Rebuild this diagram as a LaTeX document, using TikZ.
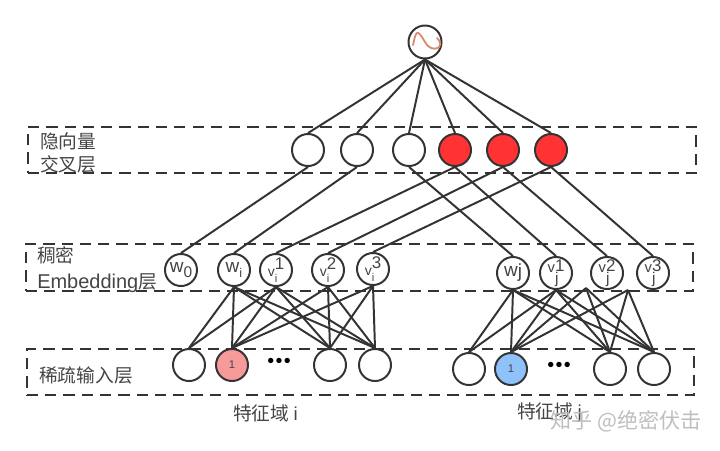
\documentclass[tikz,border=0pt]{standalone}
\usepackage{fontspec}
\setmainfont{Liberation Sans}
\newfontfamily\cjk{Noto Sans CJK SC}
\definecolor{linegray}{HTML}{333333}
\definecolor{textgray}{HTML}{444444}
\definecolor{markgray}{HTML}{BEBEBE}
\definecolor{hiddenred}{HTML}{FF3333}
\definecolor{inputpink}{HTML}{F79A9A}
\definecolor{inputblue}{HTML}{8FC1FA}
\definecolor{wavered}{HTML}{D98A70}
\newcommand{\wlab}[2]{\fontsize{13.5}{13.5}\selectfont #1\raisebox{-3pt}{\fontsize{11}{11}\selectfont #2}}
\newcommand{\vilab}[2]{\fontsize{10}{10}\selectfont \raisebox{-1pt}{v}\rlap{\raisebox{-5pt}{\fontsize{8}{8}\selectfont #2}}\raisebox{4pt}{\fontsize{12}{12}\selectfont #1}}
\newcommand{\vjlab}[2]{\fontsize{10.5}{10.5}\selectfont \raisebox{1.5pt}{v}\rlap{\raisebox{-6pt}{\fontsize{11}{11}\selectfont #2}}\raisebox{2.5pt}{\fontsize{12}{12}\selectfont #1}}
\tikzset{
    unit/.style={draw=linegray, circle, line width=1.4pt, minimum size=0.8cm, inner sep=0pt, fill=white, text=textgray},
    layerbox/.style={draw=linegray, line width=1.4pt, dash pattern=on 8pt off 5pt},
    layertext/.style={font=\fontsize{13.3}{16.5}\selectfont\cjk, text=textgray, align=left, anchor=west, inner sep=0pt},
    dotrow/.style={text=black, font=\fontsize{14}{14}\selectfont, inner sep=0pt},
    link/.style={draw=linegray, line width=1.4pt}
}
\begin{document}
\begin{tikzpicture}[x=0.025cm, y=-0.025cm]
    \useasboundingbox (0,0) rectangle (720,450);

    % Dashed layers
    \node[layerbox, minimum width=16.7cm, minimum height=1.15cm] (HiddenBox) at (362,150) {};
    \node[layerbox, minimum width=16.675cm, minimum height=1.175cm] (EmbedBox) at (359.5,267.5) {};
    \node[layerbox, minimum width=16.675cm, minimum height=1.15cm] (InputBox) at (360.5,372) {};

    % Layer labels
    \node[layertext] (HiddenText) at (40,153) {隐向量\\交叉层};
    \node[layertext, font=\fontsize{13.3}{18.5}\selectfont\cjk] (EmbedText) at (37,270) {稠密\\{\fontspec{Liberation Sans}\fontsize{14.2}{18.5}\selectfont Embedding}层};
    \node[layertext] (InputText) at (39,375) {稀疏输入层};
    \node[layertext] (FieldI) at (233,413) {特征域 {\fontspec{Liberation Sans}i}};
    \node[layertext] (FieldJ) at (517,413) {特征域 {\fontspec{Liberation Sans}j}};

    % Output
    \node[unit, minimum size=0.825cm] (Output) at (425,42) {};
    \draw[wavered, line width=1.3pt, line cap=round] (Output.center) ++(-12,3) .. controls ++(3,-14) and ++(-8,-14) .. ++(12,-3) .. controls ++(6,12) and ++(10,10) .. ++(12,-4);

    % Hidden units
    \foreach \name/\x/\col in {ha/308/white,hb/357/white,hc/409/white,hd/455/hiddenred,he/503/hiddenred,hf/551/hiddenred}
    {
        \node[unit, fill=\col] (\name) at (\x,150) {};
        \draw[link] (Output.south) -- (\name.north);
    }

    % Embedding units, field i
    \node[unit] (w0) at (181,270) {\wlab{w}{0}};
    \node[unit] (wi) at (234,270) {\wlab{w}{\raisebox{-1pt}{\fontsize{9}{9}\selectfont i}}};
    \node[unit] (via) at (276,270) {\vilab{1}{i}};
    \node[unit] (vib) at (328,270) {\vilab{2}{i}};
    \node[unit] (vic) at (373,269) {\vilab{3}{i}};

    % Embedding units, field j
    \node[unit] (wj) at (513,273) {\fontsize{13.5}{13.5}\selectfont w\raisebox{-1pt}{j}};
    \node[unit] (vja) at (556,273) {\vjlab{1}{j}};
    \node[unit] (vjb) at (607,273) {\vjlab{2}{j}};
    \node[unit] (vjc) at (653,273) {\vjlab{3}{j}};
    \coordinate (vjbfoot) at (586,288);
    \coordinate (vjcfoot) at (628,290);

    % Input units
    \node[unit] (ia) at (189,365) {};
    \node[unit, fill=inputpink] (ib) at (232,365) {\fontsize{8}{8}\selectfont 1};
    \node[unit] (ic) at (330,365) {};
    \node[unit] (id) at (375,365) {};
    \node[unit] (ja) at (469,369) {};
    \node[unit, fill=inputblue] (jb) at (511,369) {\fontsize{8}{8}\selectfont 1};
    \node[unit] (jc) at (610,369) {};
    \node[unit] (jd) at (654,369) {};
    \node[dotrow] (idots) at (279,363) {\textbullet\kern1pt\textbullet\kern1pt\textbullet};
    \node[dotrow] (jdots) at (559,367) {\textbullet\kern1pt\textbullet\kern1pt\textbullet};

    % Hidden to embedding
    \foreach \a/\b in {ha/w0,hb/wi,hc/wj,hd/via,hd/vja,he/vib,he/vjb,hf/vic,hf/vjc}
    {
        \draw[link] (\a.south) -- (\b.north);
    }

    % Embedding to input
    \foreach \a in {wi.south,via.south}
    {
        \draw[link] (\a) -- (ia.north);
    }
    \foreach \a in {wi.south,via.south,vib.south,vic.south}
    {
        \foreach \b in {ib,ic,id}
        {
            \draw[link] (\a) -- (\b.north);
        }
    }
    \foreach \a in {wj.south,vja.south}
    {
        \draw[link] (\a) -- (ja.north);
    }
    \foreach \a in {wj.south,vja.south,vjbfoot,vjcfoot}
    {
        \foreach \b in {jb,jc,jd}
        {
            \draw[link] (\a) -- (\b.north);
        }
    }

    % Watermark
    \node[font=\fontsize{15}{15}\selectfont\cjk, text=markgray, inner sep=0pt, anchor=east] (Mark) at (702,421) {知乎 @绝密伏击};
\end{tikzpicture}
\end{document}
